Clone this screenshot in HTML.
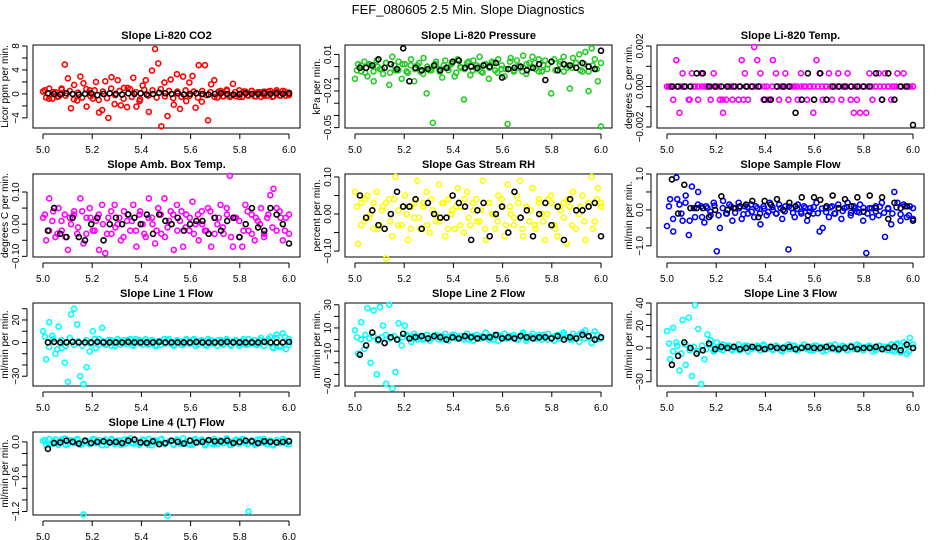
<!DOCTYPE html>
<html><head><meta charset="utf-8"><style>
html,body{margin:0;padding:0;background:#fff;}
svg{display:block;font-family:"Liberation Sans",sans-serif;}
</style></head><body>
<svg id="chart" width="936" height="540" xmlns="http://www.w3.org/2000/svg">
<rect width="936" height="540" fill="#fff"/>
<text x="468" y="14" text-anchor="middle" font-size="13">FEF_080605  2.5 Min. Slope Diagnostics</text>
</svg>
<script>
const xTickValues=[5.0,5.2,5.4,5.6,5.8,6.0];
const xTickLabels=["5.0","5.2","5.4","5.6","5.8","6.0"];
const panelTitles=["Slope Li-820 CO2","Slope Li-820 Pressure","Slope Li-820 Temp.","Slope Amb. Box Temp.","Slope Gas Stream RH","Slope Sample Flow","Slope Line 1 Flow","Slope Line 2 Flow","Slope Line 3 Flow","Slope Line 4 (LT) Flow"];
const yTitles=["Licor ppm per min.","kPa per min.","degrees C per min.","degrees C per min.","percent per min.","ml/min per min.","ml/min per min.","ml/min per min.","ml/min per min.","ml/min per min."];
const yDomains=[[-5.69,8.17],[-0.0503,0.0177],[-0.00205,0.00205],[-0.102,0.156],[-0.116,0.108],[-1.31,1.0],[-38.7,35.1],[-40,31.5],[-33.8,40],[-1.26,0.17]];
const yTicks=[[-4,-2,0,2,4,6,8],[-0.05,-0.04,-0.03,-0.02,-0.01,0,0.01],[-0.002,-0.001,0,0.001,0.002],[-0.1,-0.05,0,0.05,0.1],[-0.1,-0.05,0,0.05,0.1],[-1,-0.5,0,0.5,1],[-30,-20,-10,0,10,20,30],[-40,-30,-20,-10,0,10,20,30],[-30,-20,-10,0,10,20,30,40],[-1.2,-1,-0.8,-0.6,-0.4,-0.2,0]];
const yLabelValues=[[-4,0,4,8],[-0.05,-0.02,0.01],[-0.002,0,0.002],[-0.1,0,0.1],[-0.1,0,0.1],[-1,0,1],[-30,0,20],[-40,-10,10,30],[-30,0,20,40],[-1.2,-0.6,0]];
const yLabelTexts=[["−4","0","4","8"],["−0.05","−0.02","0.01"],["−0.002","0.000","0.002"],["−0.10","0.00","0.10"],["−0.10","0.00","0.10"],["−1.0","0.0","1.0"],["−30","0","20"],["−40","−10","10","30"],["−30","0","20","40"],["−1.2","−0.6","0.0"]];
const seriesColors=["#ff0000","#22cc22","#ff00ff","#ff00ff","#ffff00","#0000ff","#00ffff","#00ffff","#00ffff","#00ffff"];

const co2Color=[0.4,-0.6,0.9,-0.8,0.3,-0.4,0.7,4.9,2.6,-2.4,1.5,-1.1,2.9,1.8,-2.1,0.6,-0.8,2.0,-3.1,-2.7,2.1,-4.0,2.8,-1.7,2.3,-1.9,1.0,-2.2,0.8,2.7,-2.1,-1.2,1.4,2.3,-3.0,3.9,7.5,5.1,-5.4,1.9,-3.7,2.4,-1.8,3.3,-2.5,2.9,-1.2,1.9,3.0,-2.3,4.8,-1.3,4.8,-4.4,1.6,2.3,-0.6,0.5,-0.4,0.7,-0.5,1.7,-0.4,0.6,-0.5,0.4,-0.3,0.5,-0.4,0.3,-0.5,0.4,-0.3,0.5,-0.4,0.3,-0.3,0.5,-0.3,0.2];
const co2Band=[0.6,-0.8,0.3,-0.5,0.9,-0.3,0.5,-0.9,0.2,-0.6,0.8,-0.4,0.6,-1.0,0.4,-0.7,0.9,-0.2,0.5,-0.8,1.0,-0.5,0.3,-0.9,0.7,-0.3,0.6,-0.6,0.8,-0.4,0.5,-0.7,0.4,-0.5,0.6,-0.3,0.4,-0.6,0.5,-0.2,0.3,-0.5,0.4,-0.4,0.5,-0.3,0.3,-0.5,0.4,-0.2,0.5,-0.4,0.3,-0.3,0.4,-0.5,0.6,-0.3,0.4,-0.2];
const co2Black=[0.1,0.0,-0.1,0.1,0.0,-0.1,0.0,0.1,-0.2,0.0,0.1,0.0,-0.1,0.1,0.0,0.1,-0.1,0.0,0.2,0.1,0.0,0.1,-0.1,0.0,0.1,0.0,-0.1,0.0,0.1,0.0,-0.1,0.0,0.1,0.0,0.0,0.1,0.0,0.1,0.0,0.1];
const pressColor=[-0.01,0.002,-0.004,0.004,-0.008,0.001,-0.012,0.005,-0.002,-0.006,0.003,-0.015,0.008,-0.003,0.004,-0.01,0.002,-0.005,0.006,-0.012,0.001,-0.004,0.007,-0.022,-0.003,-0.046,0.004,-0.002,-0.009,0.005,-0.003,0.002,-0.008,0.006,-0.001,-0.027,0.003,-0.007,0.005,-0.002,0.008,-0.005,0.002,-0.01,0.004,-0.003,0.006,-0.002,-0.008,-0.047,0.007,-0.004,0.005,-0.001,0.009,-0.006,0.003,0.008,-0.002,0.006,-0.004,0.005,0.002,-0.022,0.006,-0.003,0.004,0.008,-0.001,-0.018,0.007,0.003,0.01,-0.004,0.012,-0.02,0.015,0.006,-0.012,-0.049];
const pressBand=[-0.003,0.001,-0.005,0.002,-0.004,0.0,-0.002,0.003,-0.005,0.001,-0.003,0.002,-0.004,0.001,-0.002,0.003,-0.006,0.0,-0.003,0.002,-0.004,0.001,-0.001,0.003,-0.005,0.0,-0.002,0.004,-0.003,0.001,-0.004,0.002,-0.001,0.003,-0.005,0.001,-0.002,0.004,-0.003,0.0,-0.004,0.002,-0.001,0.003,-0.004,0.001,-0.002,0.004,-0.003,0.002,-0.004,0.001,-0.001,0.003,-0.003,0.002,-0.004,0.001,-0.002,0.003];
const pressBlack=[-0.001,-0.001,0.001,0.006,-0.001,0.002,-0.002,0.015,-0.012,-0.001,-0.003,-0.002,0.001,-0.003,-0.001,0.004,0.005,-0.001,0.0,-0.001,0.001,0.0,0.003,-0.009,-0.002,-0.001,0.0,-0.003,-0.001,0.002,-0.011,0.004,-0.003,0.002,0.001,-0.001,0.003,0.0,-0.002,0.013];
const tempColor=[0,0,-0.00065,0.0013,-0.0013,0.00065,0,-0.00065,0.00065,0,-0.00065,0.00065,0,0,-0.00065,0.00065,0,-0.00065,-0.0013,-0.00065,0,-0.00065,0,-0.00065,0.0013,0.00065,-0.00065,0,0.00195,0.0013,0.00065,-0.00065,0,-0.00065,0.0013,0.00065,-0.00065,0,0.00065,-0.00065,0,0,-0.00065,0.00065,0,-0.00065,0,-0.0013,0.0013,0.00065,-0.00065,0,0.00065,-0.00065,0,0.00065,-0.00065,0,0.00065,-0.00065,-0.0013,-0.00065,-0.0013,0,-0.0013,0.00065,-0.00065,0,0.00065,-0.00065,0.00065,0,-0.00065,0,0.00065,0,0.00065,0,0,0];
const tempBand=[0,0,0,0,0,-0.00065,0,0,0,0,0,0,0,-0.00065,0,0,0,0,-0.00065,0,0,0,0,0,-0.00065,0,0,0,0,0,0,0,0,0,0,0,0,0,0,0,0,0,0,0,0,0,0,0,0,0,0,0,0,0,0,0,0,0,0,0];
const tempBlack=[0,0,0,0,0.00065,0.00065,0,0,0,0,0,0,0,0,0,-0.00065,-0.00065,0,0,0,-0.0013,-0.00065,0.00065,-0.00065,0.00065,-0.00065,0,0,0,0,0,0,0,0.00065,-0.00065,0.00065,-0.00065,0,0,-0.0019];
const ambColor=[0.02,-0.05,0.08,0.01,-0.04,0.05,-0.02,0.03,-0.08,0.0,0.04,-0.03,0.08,-0.06,0.02,0.05,-0.02,0.01,-0.08,0.06,-0.09,0.02,-0.03,0.06,0.0,-0.05,0.04,0.01,-0.02,0.06,-0.07,0.03,0.0,-0.04,0.08,0.02,-0.06,0.05,-0.03,0.08,-0.01,0.04,-0.08,0.06,0.01,-0.07,0.03,-0.02,0.07,0.0,-0.05,0.04,-0.02,0.05,-0.07,0.02,0.0,0.06,-0.03,0.05,0.15,-0.07,0.02,-0.04,-0.07,0.06,-0.02,0.03,-0.05,0.01,0.05,-0.04,0.02,0.09,0.11,-0.02,0.04,-0.05,0.02,-0.03];
const ambBand=[0.03,-0.02,0.04,-0.03,0.01,-0.04,0.02,0.03,-0.01,0.04,-0.03,0.02,-0.02,0.03,0.0,-0.03,0.04,-0.01,0.02,-0.04,0.03,0.01,-0.02,0.04,-0.03,0.02,0.0,-0.02,0.03,-0.04,0.01,0.03,-0.02,0.04,-0.01,0.02,-0.03,0.03,0.0,-0.02,0.04,-0.03,0.02,-0.01,0.03,-0.04,0.02,0.01,-0.02,0.04,-0.03,0.02,0.0,-0.03,0.03,-0.01,0.05,0.02,-0.02,0.03];
const ambBlack=[-0.02,0.05,-0.03,-0.04,0.02,-0.04,-0.05,0.0,0.02,-0.05,0.0,0.02,0.0,0.03,0.02,0.0,0.03,-0.03,0.03,0.01,0.0,0.02,-0.02,0.0,0.01,0.01,-0.03,0.02,-0.02,0.01,0.02,-0.04,0.0,0.05,-0.01,-0.02,0.05,0.03,0.0,-0.06];
const rhColor=[0.06,-0.08,0.03,-0.02,0.05,0.0,-0.04,0.06,-0.03,0.02,-0.12,0.04,-0.06,0.1,0.01,-0.03,0.05,-0.07,0.02,-0.01,0.09,-0.04,0.03,0.06,-0.05,0.01,-0.02,0.08,0.03,-0.06,0.04,0.0,-0.04,0.07,0.02,-0.05,0.06,-0.03,0.01,0.04,-0.02,0.09,-0.07,0.03,0.0,-0.04,0.05,0.02,-0.06,0.08,0.0,-0.03,0.05,0.09,-0.06,0.02,-0.02,0.07,-0.04,0.03,0.0,-0.07,0.04,0.05,-0.03,-0.06,0.01,0.03,-0.08,0.02,0.06,-0.04,0.0,0.05,-0.07,0.03,0.1,-0.02,0.07,0.03];
const rhBand=[0.02,-0.03,0.04,-0.01,0.03,-0.04,0.01,0.03,-0.02,0.04,-0.03,0.02,0.0,-0.04,0.03,-0.01,0.02,-0.03,0.04,0.0,-0.02,0.03,-0.04,0.01,0.02,-0.03,0.04,-0.01,0.03,-0.02,0.01,-0.04,0.03,0.0,-0.02,0.04,-0.03,0.02,-0.01,0.03,-0.04,0.02,0.01,-0.03,0.04,-0.02,0.0,0.03,-0.04,0.02,-0.01,0.04,-0.03,0.01,0.02,-0.02,0.03,-0.04,0.04,0.02];
const rhBlack=[0.05,-0.01,0.01,-0.03,-0.04,0.0,0.06,0.02,0.02,0.04,-0.04,0.03,0.0,-0.01,-0.01,0.05,0.03,0.02,-0.07,0.01,0.03,-0.06,0.0,0.02,-0.05,0.06,-0.01,0.01,-0.06,0.0,0.03,-0.03,0.02,-0.07,0.04,0.01,0.01,0.02,0.03,-0.06];
const sampleColor=[-0.45,0.3,-0.6,0.9,0.15,-0.3,0.4,-0.7,0.65,-0.2,0.5,0.1,-0.35,0.05,-0.15,0.2,-1.15,-0.5,0.25,-0.1,0.15,-0.3,0.05,0.2,-0.25,0.1,-0.1,0.15,-0.2,0.05,-0.4,0.1,-0.15,0.2,0.0,-0.1,0.15,-0.25,0.1,-1.1,0.05,-0.2,0.15,-0.05,0.1,-0.3,0.05,-0.1,0.2,-0.6,-0.5,0.05,-0.2,0.1,-0.1,0.15,-0.25,0.05,0.2,-0.15,0.1,-0.05,0.15,-0.3,-1.2,0.05,-0.2,0.1,-0.15,0.2,-0.75,0.05,-0.4,0.5,0.2,-0.3,0.15,-0.2,0.1,-0.25];
const sampleBand=[0.1,-0.25,0.3,-0.1,0.2,-0.3,0.05,0.15,-0.2,0.1,-0.05,0.12,-0.15,0.05,-0.1,0.1,-0.08,0.05,-0.12,0.08,-0.05,0.1,-0.1,0.04,-0.06,0.08,-0.1,0.05,-0.04,0.09,-0.08,0.03,-0.1,0.06,-0.05,0.08,-0.09,0.04,-0.06,0.07,-0.1,0.05,-0.03,0.08,-0.08,0.04,-0.07,0.06,-0.1,0.05,-0.04,0.09,-0.08,0.03,-0.1,0.07,-0.12,0.1,-0.15,0.05];
const sampleBlack=[0.85,-0.1,0.7,0.05,0.05,0.05,-0.2,0.0,0.38,0.0,0.05,0.1,0.15,0.25,-0.2,0.25,0.15,0.3,0.0,0.2,0.1,0.35,-0.15,0.35,0.28,0.1,0.4,0.05,0.3,0.1,0.35,-0.05,0.4,0.05,0.35,-0.25,0.2,0.05,0.1,-0.3];
const line1Color=[10,-15,18,6,-10,14,-5,-18,-35,25,30,16,-30,-37,-22,-8,10,-5,3,13,-2,2,-3,1,3,-2,2,-1,3,-3,1,2,-2,3,-1,2,-3,1,-2,3,2,-1,-3,2,1,-2,3,-1,2,-3,1,2,-2,3,-1,1,-3,2,-1,3,-2,1,2,-3,1,-2,3,-1,2,-2,4,-3,1,5,-5,7,-4,8,-6,3];
const line1Band=[5,-4,3,-6,2,-3,4,-2,1,-3,2,-1,3,-2,1,-2,2,-3,1,-1,2,-2,3,-1,1,-2,2,-3,1,-1,3,-2,1,-2,2,-1,3,-2,1,-3,2,-1,2,-2,1,-3,2,-1,3,-2,1,-2,2,-3,3,-4,4,-3,5,-2];
const line1Black=[0,0.5,0,0,0.5,0,0,0,0.5,0,0,0,0,0.5,0,0,0,0,0.5,0,0,0,0,0,0.5,0,0,0,0,0.5,0,0,0,0,0,0.5,0,0,0,0.5];
const line2Color=[8,-12,15,-8,27,-20,25,-30,28,12,-38,30,-42,-28,14,-5,12,3,-2,5,0,3,1,4,-1,2,4,0,3,5,-1,2,4,1,3,0,5,2,-1,4,1,3,6,0,2,4,-1,3,5,1,2,4,0,3,6,-1,2,5,1,4,0,3,5,2,-1,4,1,6,2,0,5,3,-2,6,8,2,-3,7,4,1];
const line2Band=[2,0,4,1,3,-1,2,4,1,3,0,2,4,1,3,2,0,4,1,2,3,0,2,4,1,3,2,0,3,4,1,2,3,0,4,2,1,3,2,0,4,1,3,2,1,4,0,2,3,1,4,2,0,3,5,1,3,4,0,2];
const line2Black=[-13,-5,6,0,-3,2,0,5,1,2,3,1,3,2,0,2,1,3,2,1,2,2,4,1,2,1,3,2,1,2,2,1,3,0,2,1,4,3,0,2];
const line3Color=[15,-10,18,5,-20,25,-15,27,-25,38,17,-32,-10,12,7,-3,5,-1,3,0,2,-2,1,3,-1,2,-3,1,0,2,-2,3,-1,1,-2,2,0,-3,1,3,-1,2,-2,0,3,-1,1,-2,2,0,-3,1,2,-1,3,-2,0,1,-2,2,-1,3,0,-2,1,2,-3,0,2,-1,1,-2,3,-3,4,-4,5,-5,9,0];
const line3Band=[4,-3,2,-5,3,-2,1,-3,2,-1,3,-2,1,-2,2,-1,0,-2,1,2,-1,1,-2,2,0,-1,2,-2,1,-1,2,-2,1,0,-2,2,-1,1,-2,2,-1,0,2,-2,1,-1,2,-2,1,0,-2,2,-1,1,-2,3,-3,2,-3,3];
const line3Black=[-15,-7,5,0,-5,-2,4,-1,1,0,1,-1,0,1,0,-1,1,0,0,1,-1,0,1,0,0,1,0,-1,0,1,-1,0,0,1,-1,0,1,-2,3,0];
const line4Color=[0.02,-0.06,0.05,-0.03,0.04,-0.05,0.01,0.06,-0.04,0.03,-0.02,0.05,-0.05,-1.25,0.02,-0.04,0.05,-0.02,0.03,-0.06,0.04,-0.01,0.05,-0.04,0.02,-0.05,0.04,-0.02,0.06,-0.03,0.01,-0.05,0.04,-0.02,0.05,-0.06,0.03,-0.01,0.05,-0.04,-1.27,0.02,-0.05,0.04,-0.03,0.06,-0.02,0.03,-0.05,0.05,-0.01,0.04,-0.06,0.02,-0.03,0.05,-0.04,0.03,-0.02,0.06,-0.05,0.01,0.04,-0.03,0.05,-0.02,-1.2,0.03,-0.05,0.04,-0.01,0.05,-0.04,0.02,-0.06,0.03,-0.02,0.05,-0.03,0.02];
const line4Band=[0.03,-0.04,0.01,-0.02,0.04,-0.05,0.02,-0.01,0.03,-0.04,0.0,-0.03,0.04,-0.02,0.01,-0.05,0.03,-0.01,0.02,-0.04,0.04,-0.02,0.0,-0.03,0.03,-0.05,0.02,-0.01,0.04,-0.03,0.01,-0.04,0.03,-0.02,0.0,-0.05,0.04,-0.01,0.02,-0.03,0.03,-0.04,0.01,-0.02,0.04,-0.05,0.02,-0.01,0.03,-0.04,0.0,-0.03,0.04,-0.02,0.01,-0.05,0.03,-0.01,0.02,-0.04];
const line4Black=[-0.12,-0.02,-0.01,0.02,0.0,-0.03,0.02,-0.02,0.0,0.01,-0.01,0.0,-0.02,0.02,0.04,-0.01,-0.02,0.01,-0.04,-0.02,0.02,0.0,-0.03,0.02,-0.01,0.0,0.03,0.01,0.01,0.02,-0.02,0.0,0.02,0.01,-0.02,0.01,0.0,-0.01,0.0,0.01];

const colorSeries=[co2Color,pressColor,tempColor,ambColor,rhColor,sampleColor,line1Color,line2Color,line3Color,line4Color];
const bandSeries=[co2Band,pressBand,tempBand,ambBand,rhBand,sampleBand,line1Band,line2Band,line3Band,line4Band];
const blackSeries=[co2Black,pressBlack,tempBlack,ambBlack,rhBlack,sampleBlack,line1Black,line2Black,line3Black,line4Black];
const timeStart=5.0, timeEnd=6.0;

const NS="http://www.w3.org/2000/svg";
const svg=document.getElementById('chart');
function mk(tag,attrs,parent){const e=document.createElementNS(NS,tag);for(const k in attrs)e.setAttribute(k,attrs[k]);(parent||svg).appendChild(e);return e;}
const colLefts=[33,345,657], rowTops=[45,174,303,432], W=267, H=83;

for(let p=0;p<10;p++){
  const L=colLefts[p%3], T=rowTops[Math.floor(p/3)], B=T+H, R=L+W;
  const g=mk('g',{});
  
  
  const xs=v=>L+10+(v-5.0)/(1.0)*246;
  const [y0,y1]=yDomains[p];
  const ys=v=>B-(v-y0)/(y1-y0)*H;
  const t=mk('text',{x:(L+R)/2,y:T-6,'text-anchor':'middle','font-size':'11','font-weight':'bold'},g);
  t.textContent=panelTitles[p];
  
  
  const box=mk('rect',{x:L,y:T,width:W,height:H,fill:'none',stroke:'#000','stroke-width':1},g);
  
  
  const xa=mk('g',{},g);
  
  
  mk('line',{x1:xs(5.0),x2:xs(6.0),y1:B+6,y2:B+6,stroke:'#000'},xa);
  xTickValues.forEach((v,i)=>{
    mk('line',{x1:xs(v),x2:xs(v),y1:B+6,y2:B+11,stroke:'#000'},xa);
    const tl=mk('text',{x:xs(v),y:B+25,'text-anchor':'middle','font-size':'10'},xa);
    tl.textContent=xTickLabels[i];
    
    
  });
  const ya=mk('g',{},g);
  
  
  const tk=yTicks[p];
  mk('line',{x1:L-6,x2:L-6,y1:ys(tk[0]),y2:ys(tk[tk.length-1]),stroke:'#000'},ya);
  tk.forEach(v=>{mk('line',{x1:L-11,x2:L-6,y1:ys(v),y2:ys(v),stroke:'#000'},ya);});
  yLabelValues[p].forEach((v,i)=>{
    const yl=mk('text',{x:0,y:0,'text-anchor':'middle','font-size':'10',transform:`translate(${L-14},${ys(v)}) rotate(-90)`},ya);
    yl.textContent=yLabelTexts[p][i];
    
    
  });
  const yt=mk('text',{x:0,y:0,'text-anchor':'middle','font-size':'10',transform:`translate(${L-25},${(T+B)/2}) rotate(-90)`},g);
  yt.textContent=yTitles[p];
  
  
  const bd=bandSeries[p];
  bd.forEach((v,i)=>{
    const x=timeStart+0.008+(timeEnd-timeStart-0.008)*i/(bd.length-1);
    const c=mk('circle',{cx:xs(x),cy:ys(v),r:2.5,fill:'none',stroke:seriesColors[p],'stroke-width':1.6},g);
    
    
  });
  const cs=colorSeries[p];
  cs.forEach((v,i)=>{
    const x=timeStart+(timeEnd-timeStart)*i/(cs.length-1);
    const c=mk('circle',{cx:xs(x),cy:ys(v),r:2.5,fill:'none',stroke:seriesColors[p],'stroke-width':1.6},g);
    
    
  });
  const bs=blackSeries[p];
  bs.forEach((v,i)=>{
    const x=timeStart+0.02+(timeEnd-timeStart-0.02)*i/(bs.length-1);
    const c=mk('circle',{cx:xs(x),cy:ys(v),r:2.5,fill:'none',stroke:'#000','stroke-width':1.6},g);
    
    
  });
}
</script>
</body></html>
